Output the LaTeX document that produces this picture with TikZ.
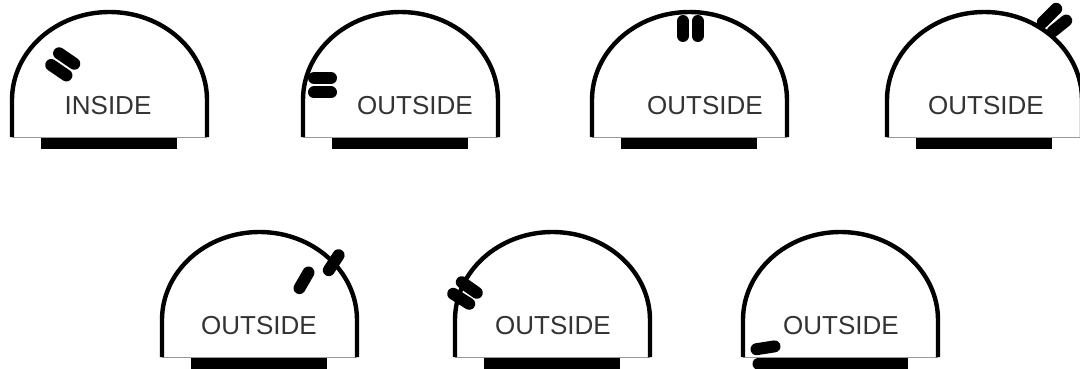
\documentclass[tikz,border=0pt]{standalone}
\usepackage{fontspec}
\setmainfont{Liberation Sans}
\begin{document}
\begin{tikzpicture}[x=1pt,y=-1pt,
  wall/.style={line width=4.4pt, black, line join=round},
  floorline/.style={line width=1pt, black!40},
  basebar/.style={fill=black},
  pill/.style={line width=12pt, line cap=round, black},
  lbl/.style={inner sep=0pt, anchor=center, text=black!80, font=\fontsize{26}{26}\selectfont}]
\clip (0,0) rectangle (1080,369);
\fill[white] (0,0) rectangle (1080,369);
% dome: #1 left x, #2 bottom y
\newcommand\mydome[2]{%
  \draw[floorline] (#1,#2) -- (#1+195,#2);
  \fill[basebar] (#1+29,#2+1) rectangle (#1+165,#2+12);
  \draw[wall] (#1,#2) -- (#1,#2-37)
     arc[start angle=180, end angle=360, x radius=97.5, y radius=88]
     -- (#1+195,#2);
}
% row 1
\mydome{12}{137}
\mydome{303}{137}
\mydome{592}{137}
\mydome{887}{137}
% row 2
\mydome{162}{357}
\mydome{455}{357}
\mydome{743}{357}
% labels
\node[lbl] (t1) at (108,106) {INSIDE};
\node[lbl] (t2) at (415,106) {OUTSIDE};
\node[lbl] (t3) at (705,106) {OUTSIDE};
\node[lbl] (t4) at (986,106) {OUTSIDE};
\node[lbl] (t5) at (259,326) {OUTSIDE};
\node[lbl] (t6) at (553,326) {OUTSIDE};
\node[lbl] (t7) at (841,326) {OUTSIDE};
% pills
\draw[pill] (59.1,53.3) -- (74.3,63.7);
\draw[pill] (51.2,65) -- (66.4,75.4);
\draw[pill] (314,78) -- (331,78);
\draw[pill] (314,92.5) -- (331,92.5);
\draw[pill] (683,21) -- (683,36);
\draw[pill] (697.5,21) -- (697.5,36);
\draw[pill] (1042.8,22.2) -- (1056.2,8.8);
\draw[pill] (1052.8,31.4) -- (1066.2,20.6);
\draw[pill] (299.5,288.1) -- (308.5,272.5);
\draw[pill] (328.8,270.2) -- (338.6,255.2);
\draw[pill] (461.8,282.2) -- (476.8,292.8);
\draw[pill] (453.2,293.8) -- (469.2,303.8);
\draw[pill] (756.5,349.2) -- (774.5,346.4);
\draw[pill] (758.5,363.5) -- (776.5,363.5);
\end{tikzpicture}
\end{document}
